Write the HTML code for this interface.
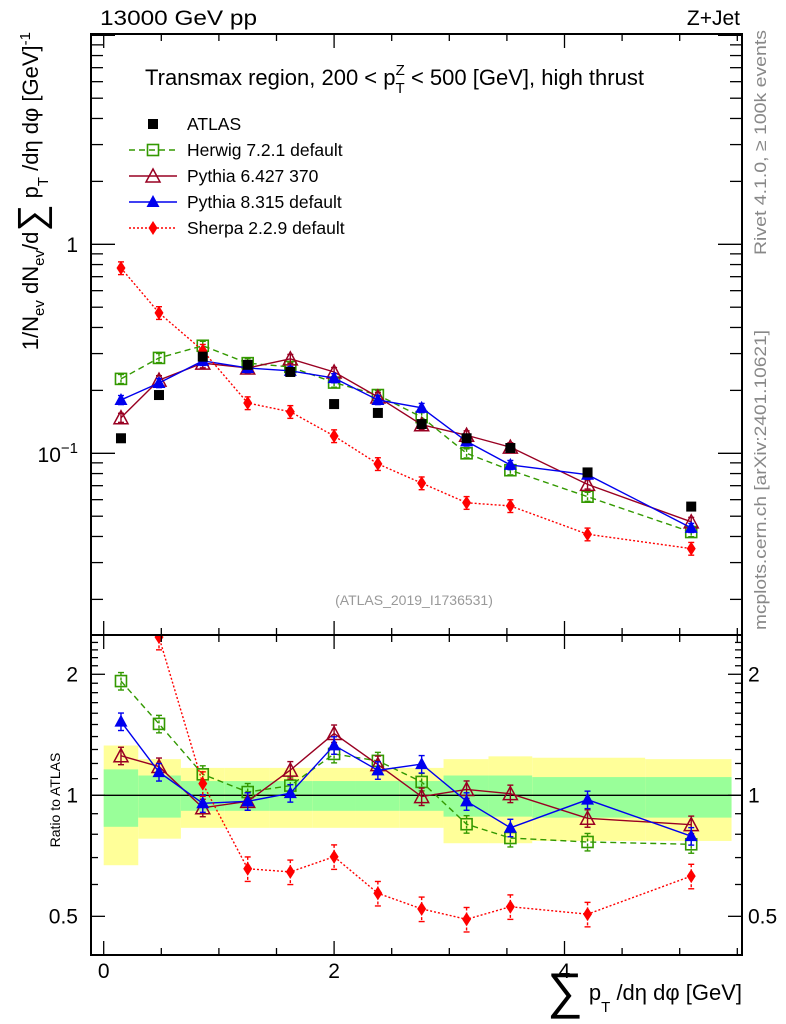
<!DOCTYPE html>
<html><head><meta charset="utf-8"><style>
html,body{margin:0;padding:0;background:#fff;}
svg{display:block;font-family:"Liberation Sans",sans-serif;}
</style></head><body>
<svg id="chart" width="786" height="1024" viewBox="0 0 786 1024" xmlns="http://www.w3.org/2000/svg">
<g id="bands"></g>
<g id="grid"></g>
<g id="series"></g>
<g id="axes"></g>
<text x="100" y="25" font-size="21" textLength="157" lengthAdjust="spacingAndGlyphs">13000 GeV pp</text>
<text x="740" y="25" font-size="21" text-anchor="end">Z+Jet</text>
<text x="145" y="85" font-size="22">Transmax region, 200 &lt; p<tspan dy="8" font-size="15">T</tspan><tspan dx="-9" dy="-18" font-size="15">Z</tspan><tspan dy="10"> &lt; 500 [GeV], high thrust</tspan></text>
<text x="414" y="605" font-size="14" fill="#999" text-anchor="middle">(ATLAS_2019_I1736531)</text>
<text transform="translate(766,255) rotate(-90)" font-size="17" fill="#888" textLength="225" lengthAdjust="spacingAndGlyphs">Rivet 4.1.0, ≥ 100k events</text>
<text transform="translate(766,630) rotate(-90)" font-size="17" fill="#888" textLength="300" lengthAdjust="spacingAndGlyphs">mcplots.cern.ch [arXiv:2401.10621]</text>
<text transform="translate(38,32) rotate(-90)" font-size="22" text-anchor="end">1/N<tspan font-size="15" dy="6">ev</tspan><tspan dy="-6"> dN</tspan><tspan font-size="15" dy="6">ev</tspan><tspan dy="-6">/d</tspan><tspan font-size="38" dy="6">∑</tspan><tspan dy="-6"> p</tspan><tspan font-size="15" dy="10">T</tspan><tspan dy="-10"> /dη dφ  [GeV]</tspan><tspan font-size="15" dy="-8">-1</tspan></text>
<text x="60" y="800" font-size="14" text-anchor="middle" transform="rotate(-90,60,800)">Ratio to ATLAS</text>
<text x="742" y="1000" font-size="22" text-anchor="end"><tspan font-size="50" dy="8">∑</tspan><tspan dy="-8"> p</tspan><tspan font-size="15" dy="12">T</tspan><tspan dy="-12"> /dη dφ [GeV]</tspan></text>
<g id="legend"></g>
</svg>
<script>
const xVals=[0.15,0.48,0.86,1.25,1.62,2.0,2.38,2.76,3.15,3.53,4.2,5.1];
const binEdges=[0,0.3,0.67,1.05,1.44,1.81,2.19,2.57,2.95,3.34,3.72,4.7,5.45];
const atlas=[0.118,0.19,0.29,0.265,0.245,0.172,0.156,0.138,0.118,0.106,0.081,0.0556];
const herwig=[0.227,0.286,0.327,0.27,0.259,0.218,0.19,0.149,0.1,0.083,0.062,0.042];
const pythia6=[0.148,0.224,0.27,0.256,0.283,0.245,0.186,0.137,0.122,0.107,0.071,0.047];
const pythia8=[0.18,0.217,0.277,0.256,0.248,0.229,0.18,0.165,0.114,0.088,0.079,0.044];
const sherpa=[0.77,0.47,0.31,0.174,0.158,0.121,0.089,0.072,0.058,0.056,0.041,0.035];
const greenUp=[1.16,1.12,1.085,1.085,1.085,1.085,1.085,1.085,1.12,1.12,1.11,1.11];
const greenDn=[0.835,0.88,0.915,0.915,0.915,0.915,0.915,0.915,0.885,0.885,0.88,0.88];
const yellowUp=[1.33,1.23,1.17,1.17,1.17,1.17,1.17,1.17,1.23,1.25,1.24,1.23];
const yellowDn=[0.67,0.78,0.83,0.83,0.83,0.83,0.83,0.83,0.76,0.76,0.77,0.77];
const relErr={herwig:0.05,pythia6:0.05,pythia8:0.05,sherpa:0.07};
const NS="http://www.w3.org/2000/svg";
const L=91,R=742,T=34,MB=635,RB=955;
const X=v=>103.7+v*115.2;
const Ym=v=>244.3-209*Math.log10(v);
const Yr=r=>795.3-174.6*Math.log(r);
function mk(tag,at,parent){const e=document.createElementNS(NS,tag);for(const k in at)e.setAttribute(k,at[k]);(parent||document.getElementById('chart')).appendChild(e);return e;}
const bands=document.getElementById('bands');
for(let i=0;i<xVals.length;i++){
  const x0=X(binEdges[i]),x1=X(binEdges[i+1]);
  const y=mk('rect',{x:x0,y:Yr(yellowUp[i]),width:x1-x0,height:Yr(yellowDn[i])-Yr(yellowUp[i]),fill:'#ffff99'},bands);
  
  
  const g=mk('rect',{x:x0,y:Yr(greenUp[i]),width:x1-x0,height:Yr(greenDn[i])-Yr(greenUp[i]),fill:'#99ff99'},bands);
  
  
}
mk('line',{x1:L,x2:R,y1:Yr(1),y2:Yr(1),stroke:'#000','stroke-width':1.3},bands);
const ser=document.getElementById('series');
const clip=mk('clipPath',{id:'cm'},ser);mk('rect',{x:L,y:T,width:R-L,height:MB-T},clip);
const clip2=mk('clipPath',{id:'cr'},ser);mk('rect',{x:L,y:MB,width:R-L,height:RB-MB},clip2);
function marker(type,x,y,color,parent){
  let e;
  if(type==='sq')e=mk('rect',{x:x-5,y:y-5,width:10,height:10,fill:'#000'},parent);
  else if(type==='osq')e=mk('rect',{x:x-5.5,y:y-5.5,width:11,height:11,fill:'none',stroke:color,'stroke-width':1.6},parent);
  else if(type==='otri')e=mk('polygon',{points:`${x},${y-7} ${x-7},${y+6} ${x+7},${y+6}`,fill:'none',stroke:color,'stroke-width':1.5},parent);
  else if(type==='tri')e=mk('polygon',{points:`${x},${y-7} ${x-6.5},${y+5} ${x+6.5},${y+5}`,fill:color},parent);
  else e=mk('polygon',{points:`${x},${y-7} ${x-4.5},${y} ${x},${y+7} ${x+4.5},${y}`,fill:color},parent);
  return e;
}
const models=[
 {key:'herwig',vals:herwig,color:'#339900',dash:'6,4',m:'osq',name:'Herwig 7.2.1 default'},
 {key:'pythia6',vals:pythia6,color:'#990022',dash:'',m:'otri',name:'Pythia 6.427 370'},
 {key:'pythia8',vals:pythia8,color:'#0000ee',dash:'',m:'tri',name:'Pythia 8.315 default'},
 {key:'sherpa',vals:sherpa,color:'#ff0000',dash:'2,2',m:'dia',name:'Sherpa 2.2.9 default'}];
models.forEach(md=>{
  ['main','ratio'].forEach(panel=>{
    const g=mk('g',{'clip-path':panel==='main'?'url(#cm)':'url(#cr)'},ser);
    
    
    const vals=panel==='main'?md.vals:md.vals.map((v,i)=>v/atlas[i]);
    const Y=panel==='main'?Ym:Yr;
    const pts=vals.map((v,i)=>X(xVals[i])+','+Y(v)).join(' ');
    const pl=mk('polyline',{points:pts,fill:'none',stroke:md.color,'stroke-width':1.4,'stroke-dasharray':md.dash},g);
    
    
    vals.forEach((v,i)=>{
      const x=X(xVals[i]),e=relErr[md.key];
      mk('line',{x1:x,x2:x,y1:Y(v*(1+e)),y2:Y(v*(1-e)),stroke:md.color,'stroke-width':1.4,'stroke-dasharray':md.dash?'3,2':''},g);
      mk('line',{x1:x-3,x2:x+3,y1:Y(v*(1+e)),y2:Y(v*(1+e)),stroke:md.color,'stroke-width':1.4},g);
      mk('line',{x1:x-3,x2:x+3,y1:Y(v*(1-e)),y2:Y(v*(1-e)),stroke:md.color,'stroke-width':1.4},g);
      const p=marker(md.m,x,Y(v),md.color,g);
      
      
    });
  });
});
atlas.forEach((v,i)=>{
  const p=marker('sq',X(xVals[i]),Ym(v),'#000',ser);
  
  
});
const lg=document.getElementById('legend');
const legItems=[{m:'sq',color:'#000',dash:null,name:'ATLAS'}].concat(models);
legItems.forEach((it,i)=>{
  const y=124+i*26;
  const g=mk('g',{},lg);
  
  
  if(it.dash!==null)mk('line',{x1:129,x2:177,y1:y,y2:y,stroke:it.color,'stroke-width':1.4,'stroke-dasharray':it.dash},g);
  marker(it.m,153,y,it.color,g);
  const t=mk('text',{x:187,y:y+6,'font-size':17.5},g);t.textContent=it.name;
});
const ax=document.getElementById('axes');
const ln=(x1,y1,x2,y2,w)=>mk('line',{x1,y1,x2,y2,stroke:'#000','stroke-width':w||1.3},ax);
mk('rect',{x:L,y:T,width:R-L,height:RB-T,fill:'none',stroke:'#000','stroke-width':2},ax);
ln(L,MB,R,MB,2);
for(let v=0;v<=5.5;v+=0.5){
  const x=X(v),big=Math.abs(v-Math.round(v/2)*2)<1e-6,len=big?14:7;
  [[T,1],[MB,-1],[MB,1],[RB,-1]].forEach(([y,d])=>ln(x,y,x,y+d*len));
  if(big){const t=mk('text',{x:x,y:978,'font-size':21,'text-anchor':'middle'},ax);t.textContent=v;}
}
for(let e=-2;e<=1;e++)for(let k=1;k<=9;k++){
  const v=k*Math.pow(10,e),y=Ym(v);
  if(y<T||y>MB)continue;
  const len=k===1?24:12;
  ln(L,y,L+len,y);ln(R,y,R-len,y);
}
let t=mk('text',{x:78,y:252,'font-size':21,'text-anchor':'end'},ax);t.textContent='1';
t=mk('text',{x:78,y:462,'font-size':21,'text-anchor':'end'},ax);t.innerHTML='10<tspan font-size="15" dy="-9">−1</tspan>';
for(let r=0.4;r<=2.55;r+=0.1){
  const y=Yr(r);if(y<MB||y>RB)continue;
  const maj=[0.5,1,2].some(m=>Math.abs(r-m)<1e-6),len=maj?14:7;
  ln(L,y,L+len,y);ln(R,y,R-len,y);
}
[[2,'2'],[1,'1'],[0.5,'0.5']].forEach(([r,s])=>{
  let a=mk('text',{x:78,y:Yr(r)+7,'font-size':21,'text-anchor':'end'},ax);a.textContent=s;
  a=mk('text',{x:748,y:Yr(r)+7,'font-size':21},ax);a.textContent=s;
});
</script>
</body></html>
